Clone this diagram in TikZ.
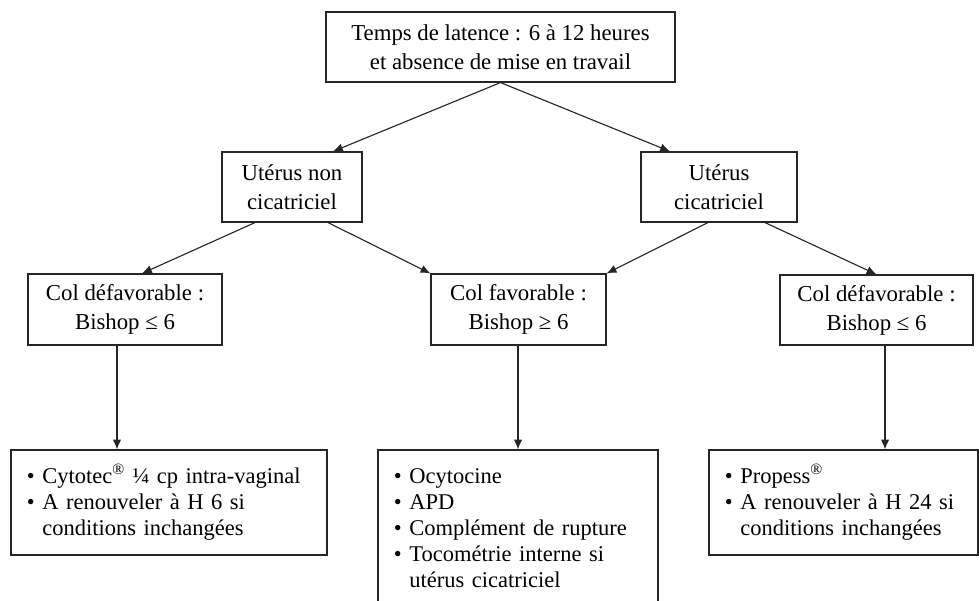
\documentclass[tikz,border=0pt]{standalone}
\usepackage{fontspec}
\setmainfont{Liberation Serif}
\usetikzlibrary{arrows.meta,calc}

\newcommand{\puce}{\makebox[11pt][l]{\textbullet}}

\begin{document}
\begin{tikzpicture}[>={Latex[length=7pt,width=6pt]},x=0.025cm,y=-0.025cm,
	boite/.style={draw=black!85,line width=0.8pt,align=center,inner sep=0pt,
		font=\fontsize{16.2}{20.5}\selectfont},
	liste/.style={draw=black!85,line width=0.8pt,align=left,inner xsep=0.4cm,inner ysep=0pt,
		font=\fontsize{16}{18.6}\selectfont},
	fleche/.style={->,line width=0.8pt,color=black!85}]

\clip (0,0) rectangle (979,600);

% premier niveau
\node[boite,minimum width=8.725cm,minimum height=1.75cm] (latence) at (500.5,47)
	{Temps de latence : 6 à 12 heures\\ et absence de mise en travail};

\node[boite,minimum width=3.5cm,minimum height=1.75cm] (nonc) at (292,187) {Utérus non\\ cicatriciel};
\node[boite,minimum width=3.9cm,minimum height=1.75cm] (cic) at (719,187) {Utérus\\ cicatriciel};

% etat du col
\node[boite,minimum width=4.85cm,minimum height=1.775cm] (defg) at (125,309.5) {Col défavorable :\\ Bishop ≤ 6};
\node[boite,minimum width=4.375cm,minimum height=1.775cm] (fav) at (518.5,309.5) {Col favorable :\\ Bishop ≥ 6};
\node[boite,minimum width=4.825cm,minimum height=1.75cm] (defd) at (876.5,310) {Col défavorable :\\ Bishop ≤ 6};

% conduite a tenir
\node[liste,text width=7.1cm,minimum height=2.625cm] (cytotec) at (169,502.5)
	{\puce Cytotec\textsuperscript{®} ¼ cp intra-vaginal\\
	 \puce A renouveler à H 6 si\\
	 \hphantom{\puce}conditions inchangées};
\node[liste,text width=6.2cm,minimum height=3.9cm] (ocyto) at (518,528)
	{\puce Ocytocine\\
	 \puce APD\\
	 \puce Complément de rupture\\
	 \puce Tocométrie interne si\\
	 \hphantom{\puce}utérus cicatriciel};
\node[liste,text width=5.925cm,minimum height=2.625cm] (propess) at (843.5,502.5)
	{\puce Propess\textsuperscript{®}\\
	 \puce A renouveler à H 24 si\\
	 \hphantom{\puce}conditions inchangées};

\draw[fleche] (latence.south) -- ($(nonc.north)+(41,0)$);
\draw[fleche] (latence.south) -- ($(cic.north)+(-49,0)$);

\draw[fleche] ($(nonc.south)+(-37,0)$) -- ($(defg.north)+(17,0)$);
\draw[fleche] ($(nonc.south)+(36,0)$) -- (fav.north west);
\draw[fleche] ($(cic.south)+(-11,0)$) -- (fav.north east);
\draw[fleche] ($(cic.south)+(46,0)$) -- (defd.north);

\draw[fleche] ($(defg.south)+(-8,0)$) coordinate (v1) -- (v1 |- cytotec.north);
\draw[fleche] ($(fav.south)+(-0.5,0)$) coordinate (v2) -- (v2 |- ocyto.north);
\draw[fleche] ($(defd.south)+(8.5,0)$) coordinate (v3) -- (v3 |- propess.north);

\end{tikzpicture}
\end{document}
